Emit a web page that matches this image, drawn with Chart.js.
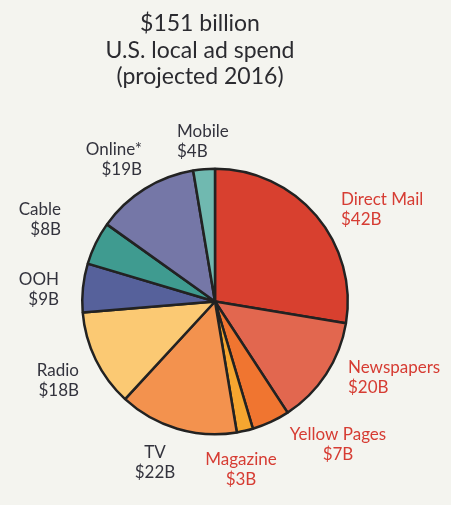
<!DOCTYPE html>
<html>
<head>
<meta charset="utf-8">
<script src="https://cdn.jsdelivr.net/npm/chart.js@4.4.0/dist/chart.umd.min.js"></script>
<style>
  html, body { margin: 0; padding: 0; background: #f4f4ef; }
  #wrap { width: 451px; height: 505px; position: relative; }
</style>
</head>
<body>
<div id="wrap"><canvas id="pie"></canvas></div>
<script>
// Data (billions of dollars, clockwise from 12 o'clock)
const categories = ['Direct Mail', 'Newspapers', 'Yellow Pages', 'Magazine', 'TV', 'Radio', 'OOH', 'Cable', 'Online*', 'Mobile'];
const spend = [42, 20, 7, 3, 22, 18, 9, 8, 19, 4];
const spendLabels = ['$42B', '$20B', '$7B', '$3B', '$22B', '$18B', '$9B', '$8B', '$19B', '$4B'];
const titleLines = ['$151 billion', 'U.S. local ad spend', '(projected 2016)'];

const sliceColors = ['#d8402f', '#e2674f', '#f07530', '#f5a630', '#f3924e', '#fbc973', '#56619b', '#3f9b90', '#7577a7', '#70b9b0'];

// where each label sits relative to the pie centre, and how it is aligned
const labelLayout = {
    'Direct Mail':  { dx: 126,  dy: -92,  align: 'left',   color: '#d63c33' },
    'Newspapers':   { dx: 133,  dy: 76,   align: 'left',   color: '#d63c33' },
    'Yellow Pages': { dx: 123,  dy: 143,  align: 'center', color: '#d63c33' },
    'Magazine':     { dx: 26,   dy: 168,  align: 'center', color: '#d63c33' },
    'TV':           { dx: -60,  dy: 161,  align: 'center', color: '#33333d' },
    'Radio':        { dx: -136, dy: 79,   align: 'right',  color: '#33333d' },
    'OOH':          { dx: -156, dy: -12,  align: 'right',  color: '#33333d' },
    'Cable':        { dx: -154, dy: -82,  align: 'right',  color: '#33333d' },
    'Online*':      { dx: -73,  dy: -142, align: 'right',  color: '#33333d' },
    'Mobile':       { dx: -38,  dy: -160, align: 'left',   color: '#33333d' }
};

// Plugin that writes the title and the outside labels
const textPlugin = {
    id: 'textPlugin',
    afterDraw(chart) {
        const ctx = chart.ctx;
        ctx.save();
        // title
        ctx.fillStyle = '#2b2b30';
        ctx.font = '23px Lato';
        ctx.textAlign = 'center';
        ctx.textBaseline = 'middle';
        titleLines.forEach((line, i) => ctx.fillText(line, 200, 24 + i * 26.5));

        // slice labels
        const arc = chart.getDatasetMeta(0).data[0];
        const cx = arc.x, cy = arc.y;
        ctx.font = '17px Lato';
        categories.forEach((name, i) => {
            const l = labelLayout[name];
            ctx.fillStyle = l.color;
            ctx.textAlign = l.align;
            ctx.fillText(name, cx + l.dx, cy + l.dy - 10);
            ctx.fillText(spendLabels[i], cx + l.dx, cy + l.dy + 10);
        });
        ctx.restore();
    }
};

new Chart(document.getElementById('pie'), {
    type: 'pie',
    data: {
        labels: categories,
        datasets: [{
            data: spend,
            backgroundColor: sliceColors,
            borderColor: '#222222',
            borderWidth: 2.5,
            borderAlign: 'center'
        }]
    },
    options: {
        responsive: true,
        maintainAspectRatio: false,
        animation: false,
        layout: { padding: { left: 81, right: 102, top: 167, bottom: 69 } },
        plugins: {
            legend: { display: false },
            tooltip: { enabled: false }
        }
    },
    plugins: [textPlugin]
});
</script>
</body>
</html>
